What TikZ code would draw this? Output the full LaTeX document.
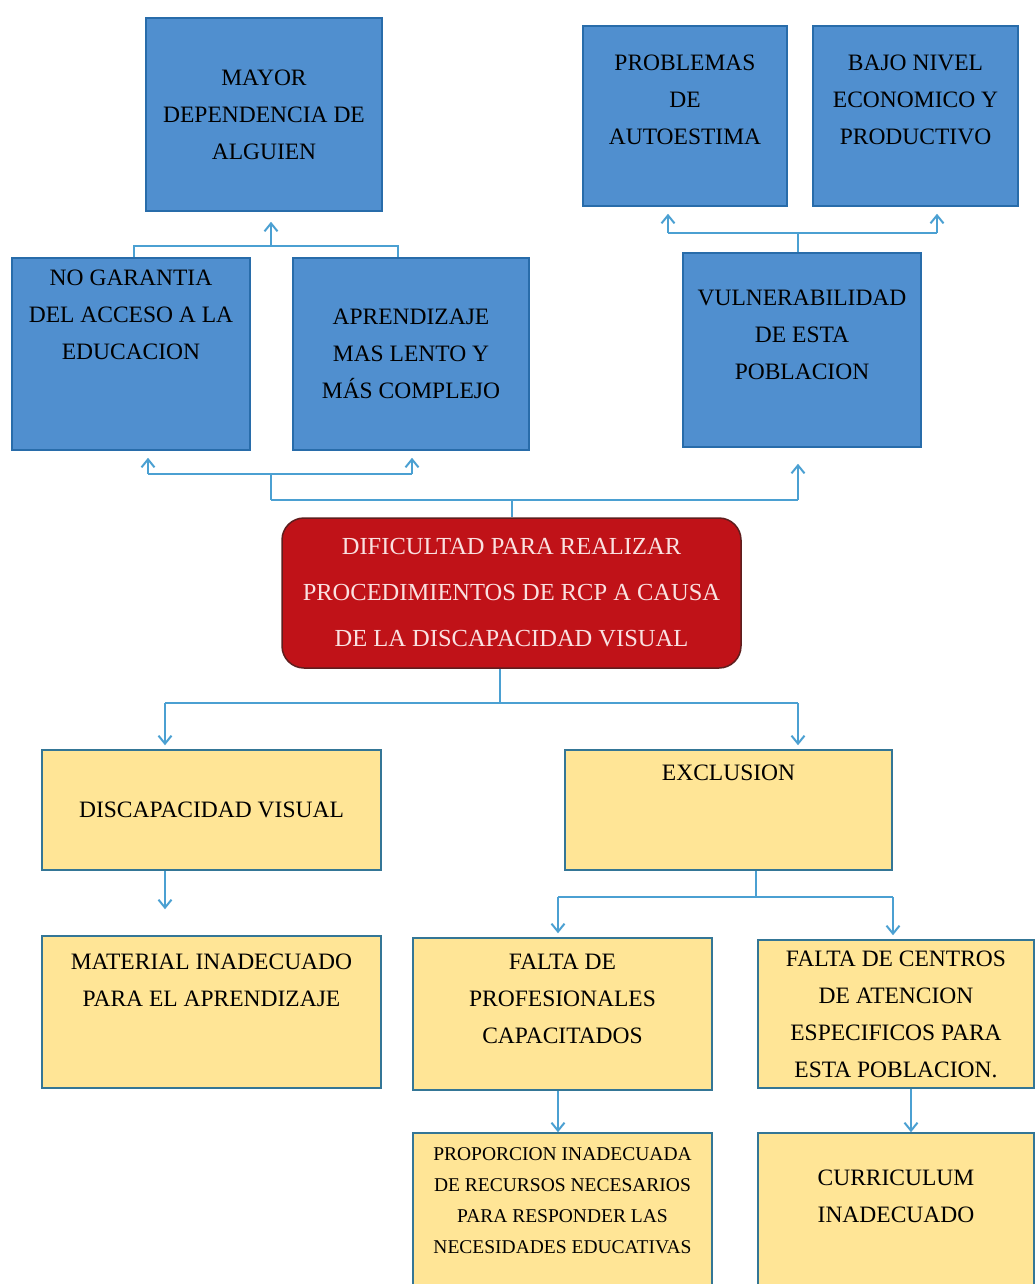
\documentclass[tikz,border=0pt]{standalone}
\usepackage{fontspec}
\setmainfont{Liberation Serif}
\usetikzlibrary{arrows.meta}

\definecolor{boxblue}{RGB}{80,143,207}
\definecolor{blueedge}{RGB}{40,108,170}
\definecolor{boxyellow}{RGB}{255,229,150}
\definecolor{yellowedge}{RGB}{52,118,150}
\definecolor{boxred}{RGB}{192,18,24}
\definecolor{rededge}{RGB}{95,30,30}
\definecolor{redtext}{RGB}{250,225,225}
\definecolor{linkblue}{RGB}{75,160,210}

\begin{document}
\begin{tikzpicture}
  [x=1pt,y=-1pt,
effect/.style={draw=blueedge, fill=boxblue, line width=1.5pt, align=center, inner sep=0pt,
  font=\fontsize{23.5}{37}\selectfont},
cause/.style={draw=yellowedge, fill=boxyellow, line width=1.5pt, align=center, inner sep=0pt,
  font=\fontsize{23.5}{37}\selectfont},
problem/.style={draw=rededge, fill=boxred, line width=1.5pt, rounded corners=22pt, align=center,
  inner sep=0pt, text=redtext, font=\fontsize{24.5}{46}\selectfont},
link/.style={draw=linkblue, line width=2pt},
arrow/.style={link, -{Straight Barb[length=8pt,width=13pt]}}]

\useasboundingbox (0,0) rectangle (1034,1284);

% effects
\node [effect, minimum width=236, minimum height=193] (dep) at (264,114.5)
  {MAYOR\\DEPENDENCIA DE\\ALGUIEN};
\node [effect, minimum width=204, minimum height=180] (auto) at (685,116)
  {PROBLEMAS\\DE\\AUTOESTIMA\\[-5pt]~};
\node [effect, minimum width=205, minimum height=180] (eco) at (915.5,116)
  {BAJO NIVEL\\ECONOMICO Y\\PRODUCTIVO\\[-5pt]~};
\node [effect, minimum width=238, minimum height=192] (acc) at (131,354)
  {NO GARANTIA\\DEL ACCESO A LA\\EDUCACION\\[41pt]~};
\node [effect, minimum width=236, minimum height=192] (apr) at (411,354)
  {APRENDIZAJE\\MAS LENTO Y\\MÁS COMPLEJO};
\node [effect, minimum width=238, minimum height=194] (vul) at (802,350)
  {VULNERABILIDAD\\DE ESTA\\POBLACION\\[-7pt]~};

% central problem
\node [problem, minimum width=459, minimum height=150] (rcp) at (511.5,593)
  {DIFICULTAD PARA REALIZAR\\PROCEDIMIENTOS DE RCP A CAUSA\\DE LA DISCAPACIDAD VISUAL};

% causes
\node [cause, minimum width=339, minimum height=120] (dv) at (211.5,810)
  {DISCAPACIDAD VISUAL};
\node [cause, minimum width=327, minimum height=120] (exc) at (728.5,810)
  {EXCLUSION\\[37pt]~};
\node [cause, minimum width=339, minimum height=152] (mat) at (211.5,1012)
  {MATERIAL INADECUADO\\PARA EL APRENDIZAJE\\[27pt]~};
\node [cause, minimum width=299, minimum height=152] (prof) at (562.5,1014)
  {FALTA DE\\PROFESIONALES\\CAPACITADOS\\[-7pt]~};
\node [cause, minimum width=276, minimum height=148] (cen) at (896,1014)
  {FALTA DE CENTROS\\DE ATENCION\\ESPECIFICOS PARA\\ESTA POBLACION.};
\node [cause, minimum width=299, minimum height=160, font=\fontsize{19.5}{31}\selectfont] (prop) at (562.5,1213)
  {PROPORCION INADECUADA\\DE RECURSOS NECESARIOS\\PARA RESPONDER LAS\\NECESIDADES EDUCATIVAS\\[-6pt]~};
\node [cause, minimum width=276, minimum height=160] (cur) at (896,1213)
  {CURRICULUM\\INADECUADO\\[-3pt]~};

% junctions
\coordinate (T1) at (134,246);
\coordinate (T2) at (398,246);
\coordinate (T3) at (271,246);
\coordinate (R1) at (668,233);
\coordinate (R2) at (937,233);
\coordinate (B1) at (148,474);
\coordinate (B2) at (412,474);
\coordinate (B3) at (271,474);
\coordinate (C1) at (271,500);
\coordinate (C2) at (798,500);
\coordinate (D1) at (165,703);
\coordinate (D2) at (798,703);
\coordinate (D3) at (500,703);
\coordinate (E1) at (558,897);
\coordinate (E2) at (893,897);
\coordinate (E3) at (756,897);

% upward branches
\draw [link] (acc.north -| T1) -- (T1) -- (T2) -- (apr.north -| T2);
\draw [arrow, shorten >=10pt] (T3) -- (dep.south -| T3);
\draw [link] (vul.north -| C2) -- (R1 -| C2);
\draw [link] (R1) -- (R2);
\draw [arrow, shorten >=7pt] (R1) -- (auto.south -| R1);
\draw [arrow, shorten >=7pt] (R2) -- (eco.south -| R2);
\draw [link] (rcp.north |- C1) -- (rcp.north);
\draw [link] (C1) -- (C2);
\draw [arrow, shorten >=16pt] (C2) -- (vul.south -| C2);
\draw [link] (C1) -- (B3);
\draw [link] (B1) -- (B2);
\draw [arrow, shorten >=7pt] (B1) -- (acc.south -| B1);
\draw [arrow, shorten >=7pt] (B2) -- (apr.south -| B2);

% downward branches
\draw [link] (rcp.south -| D3) -- (D3);
\draw [link] (D1) -- (D2);
\draw [arrow, shorten >=4pt] (D1) -- (dv.north -| D1);
\draw [arrow, shorten >=4pt] (D2) -- (exc.north -| D2);
\draw [arrow, shorten >=26pt] (dv.south -| D1) -- (mat.north -| D1);
\draw [link] (exc.south -| E3) -- (E3);
\draw [link] (E1) -- (E2);
\draw [arrow, shorten >=4pt] (E1) -- (prof.north -| E1);
\draw [arrow, shorten >=4pt] (E2) -- (cen.north -| E2);
\draw [arrow] (prof.south -| E1) -- (prop.north -| E1);
\draw [arrow] (cen.south -| 911,0) -- (cur.north -| 911,0);

\end{tikzpicture}
\end{document}
